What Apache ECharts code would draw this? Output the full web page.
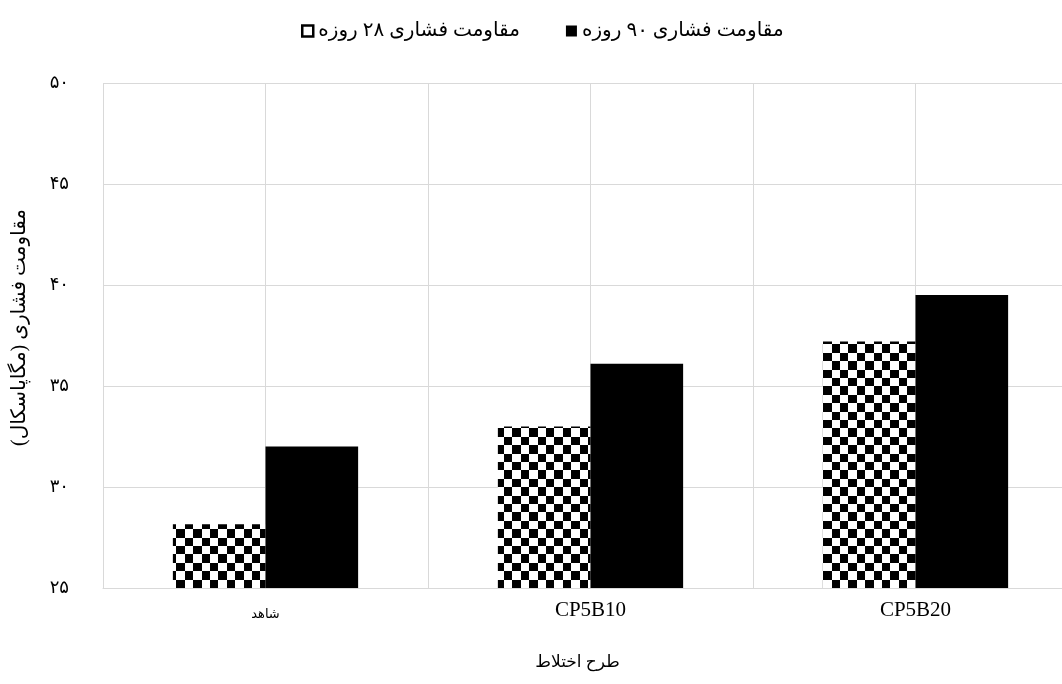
<!DOCTYPE html>
<html>
<head>
<meta charset="utf-8">
<script src="https://cdn.jsdelivr.net/npm/echarts@6/dist/echarts.min.js"></script>
<style>
  html, body { margin: 0; padding: 0; background: #ffffff; }
  #chart { width: 1062px; height: 684px; }
</style>
</head>
<body>
<div id="chart"></div>
<script>
// Mix designs and compressive strength (MPa)
const categories = ['شاهد', 'CP5B10', 'CP5B20'];
const strength28 = [28.15, 33.0, 37.2];
const strength90 = [32.0, 36.1, 39.5];
const seriesNames = ['مقاومت فشاری ۲۸ روزه', 'مقاومت فشاری ۹۰ روزه'];
const yTickValues = [25, 30, 35, 40, 45, 50];
const yTickLabels = ['۲۵', '۳۰', '۳۵', '۴۰', '۴۵', '۵۰'];
const xAxisTitle = 'طرح اختلاط';
const yAxisTitle = '\u200Fمقاومت فشاری (مگاپاسکال)\u200F';

const FONT = "'Liberation Serif', 'Times New Roman', 'DejaVu Sans', serif";
const GRID = '#d9d9d9';

// Checkerboard fill for the 28-day bars
function checkerCanvas(cells, total) {
  const c = document.createElement('canvas');
  c.width = total; c.height = total;
  const ctx = c.getContext('2d');
  ctx.fillStyle = '#ffffff';
  ctx.fillRect(0, 0, total, total);
  ctx.fillStyle = '#000000';
  const step = total / cells;
  for (let i = 0; i < cells; i++) {
    for (let j = 0; j < cells; j++) {
      if ((i + j) % 2 === 0) {
        const x0 = Math.round(i * step), x1 = Math.round((i + 1) * step);
        const y0 = Math.round(j * step), y1 = Math.round((j + 1) * step);
        ctx.fillRect(x0, y0, x1 - x0, y1 - y0);
      }
    }
  }
  return c;
}
const checker = { image: checkerCanvas(10, 84), repeat: 'repeat' };

const hasArabic = s => /[\u0600-\u06FF]/.test(s);

const chart = echarts.init(document.getElementById('chart'), null, { renderer: 'canvas' });
chart.setOption({
  animation: false,
  backgroundColor: '#ffffff',
  textStyle: { fontFamily: FONT, color: '#000' },
  legend: {
    top: 16,
    left: 296,
    itemGap: 46,
    itemWidth: 11,
    itemHeight: 11,
    textStyle: { fontFamily: FONT, fontSize: 20, color: '#000' },
    data: [
      { name: seriesNames[0], icon: 'rect',
        itemStyle: { color: '#ffffff', borderColor: '#000000', borderWidth: 2.5 } },
      { name: seriesNames[1], icon: 'rect',
        itemStyle: { color: '#000000' } }
    ]
  },
  grid: { left: 103, top: 83, width: 975, height: 505, outerBoundsMode: 'none', containLabel: false },
  xAxis: [
    {
      type: 'category',
      data: categories,
      axisLine: { show: true, lineStyle: { color: GRID, width: 1 } },
      axisTick: { show: false },
      splitLine: { show: false },
      axisLabel: {
        margin: 12,
        formatter: v => hasArabic(v) ? '{fa|' + v + '}' : '{en|' + v + '}',
        rich: {
          en: { fontFamily: FONT, fontSize: 21, color: '#000' },
          fa: { fontFamily: FONT, fontSize: 13, color: '#000', padding: [8, 0, 0, 0] }
        }
      },
      name: xAxisTitle,
      nameLocation: 'middle',
      nameGap: 66,
      nameTextStyle: { fontFamily: FONT, fontSize: 17, color: '#000', padding: [0, 26, 0, 0] }
    },
    {
      // half-category guide lines
      type: 'value',
      min: 0, max: 6, interval: 1,
      position: 'bottom',
      axisLine: { show: false },
      axisTick: { show: false },
      axisLabel: { show: false },
      splitLine: { show: true, lineStyle: { color: GRID, width: 1 } }
    }
  ],
  yAxis: {
    type: 'value',
    min: 25, max: 50, interval: 5,
    axisLine: { show: false },
    axisTick: { show: false },
    splitLine: { show: true, lineStyle: { color: GRID, width: 1 } },
    axisLabel: {
      margin: 34,
      fontFamily: FONT,
      fontSize: 18,
      color: '#000',
      formatter: v => yTickLabels[yTickValues.indexOf(v)]
    },
    name: yAxisTitle,
    nameLocation: 'middle',
    nameRotate: 90,
    nameGap: 73,
    nameTextStyle: { fontFamily: FONT, fontSize: 20, color: '#000', padding: [0, 0, 0, 16] }
  },
  series: [
    {
      name: seriesNames[0],
      type: 'bar',
      xAxisIndex: 0,
      data: strength28,
      barWidth: '28.5%',
      barGap: '0%',
      itemStyle: { color: checker }
    },
    {
      name: seriesNames[1],
      type: 'bar',
      xAxisIndex: 0,
      data: strength90,
      barWidth: '28.5%',
      barGap: '0%',
      itemStyle: { color: '#000000' }
    }
  ]
});
</script>
</body>
</html>
